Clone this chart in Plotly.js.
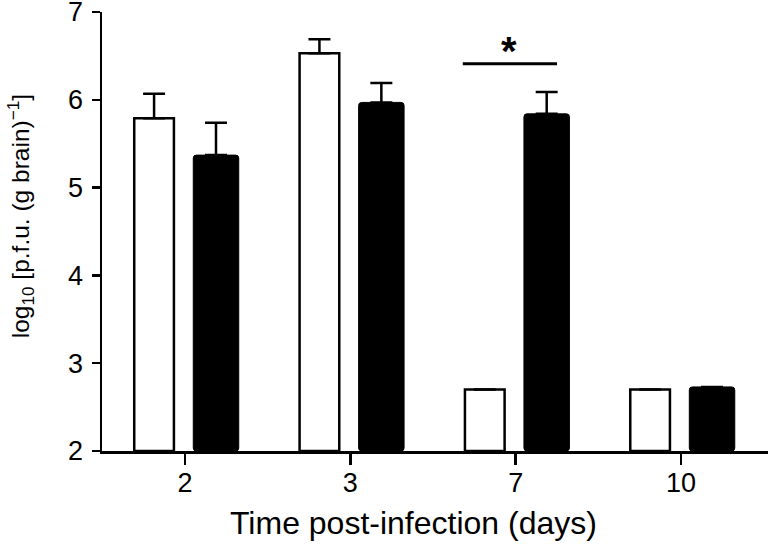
<!DOCTYPE html>
<html>
<head>
<meta charset="utf-8">
<script src="https://cdn.plot.ly/plotly-3.0.1.min.js"></script>
<style>
  html, body { margin: 0; padding: 0; background: #fff; }
  #plot { width: 768px; height: 545px; }
</style>
</head>
<body>
<div id="plot"></div>
<script>
// days post-infection
let days = ["2", "3", "7", "10"];
let dayPos = [0, 1, 2, 3];

// log10 pfu per g brain, mean and upper error
let openMeans = [5.79, 6.53, 2.70, 2.70];
let openErr = [0.28, 0.16, 0, 0];
let filledMeans = [5.37, 5.97, 5.84, 2.73];
let filledErr = [0.37, 0.22, 0.25, 0];
let zeros = [0, 0, 0, 0];

let font = "Liberation Sans, Arial, Helvetica, sans-serif";

let openTrace = {
    x: dayPos,
    y: openMeans.map(v => v - 2),
    base: 2,
    type: "bar",
    offset: -0.307,
    width: 0.24,
    marker: { color: "#ffffff", line: { color: "#000000", width: 2.5 } },
    error_y: { type: "data", symmetric: false, array: openErr, arrayminus: zeros,
               color: "#000000", thickness: 2.5, width: 11 },
    hoverinfo: "y"
};

let filledTrace = {
    x: dayPos,
    y: filledMeans.map(v => v - 2),
    base: 2,
    type: "bar",
    offset: 0.05,
    width: 0.275,
    marker: { color: "#000000", line: { color: "#000000", width: 1 }, cornerradius: 3 },
    error_y: { type: "data", symmetric: false, array: filledErr, arrayminus: zeros,
               color: "#000000", thickness: 2.5, width: 11 },
    hoverinfo: "y"
};

let layout = {
    width: 768,
    height: 545,
    margin: { l: 102, r: 0, t: 12, b: 94 },
    paper_bgcolor: "#ffffff",
    plot_bgcolor: "#ffffff",
    showlegend: false,
    barmode: "overlay",
    font: { family: font, color: "#000000", size: 27 },
    xaxis: {
        range: [-0.502, 3.526],
        tickvals: dayPos,
        ticktext: days,
        showgrid: false,
        zeroline: false,
        showline: true,
        linecolor: "#000000",
        linewidth: 2.5,
        ticks: "outside",
        ticklen: 11,
        tickwidth: 2.5,
        tickcolor: "#000000",
        ticklabelstandoff: -5,
        tickfont: { size: 27 }
    },
    yaxis: {
        range: [2, 7],
        tickvals: [2, 3, 4, 5, 6, 7],
        showgrid: false,
        zeroline: false,
        showline: true,
        linecolor: "#000000",
        linewidth: 2.5,
        ticks: "outside",
        ticklen: 8,
        tickwidth: 2.5,
        tickcolor: "#000000",
        ticklabeloverflow: "allow",
        ticklabelstandoff: 3,
        tickfont: { size: 27 }
    },
    shapes: [
        { type: "line", xref: "x", yref: "y", x0: 1.68, x1: 2.25, y0: 6.41, y1: 6.41,
          line: { color: "#000000", width: 3 } }
    ],
    annotations: [
        { xref: "x", yref: "y", x: 1.96, y: 6.56, text: "<b>*</b>", showarrow: false,
          font: { size: 40, family: font }, yanchor: "middle" },
        { xref: "paper", yref: "paper", x: 0.468, y: -0.163, text: "Time post-infection (days)",
          showarrow: false, xanchor: "center", yanchor: "middle", font: { size: 32, family: font } },
        { xref: "paper", yref: "paper", x: -0.123, y: 0.535,
          text: "log<sub>10</sub> [p.f.u. (g brain)<sup>\u22121</sup>]", textangle: -90,
          showarrow: false, xanchor: "center", yanchor: "middle", font: { size: 24.5, family: font } }
    ]
};

Plotly.newPlot("plot", [openTrace, filledTrace], layout, { displayModeBar: false, staticPlot: true });
</script>
</body>
</html>
